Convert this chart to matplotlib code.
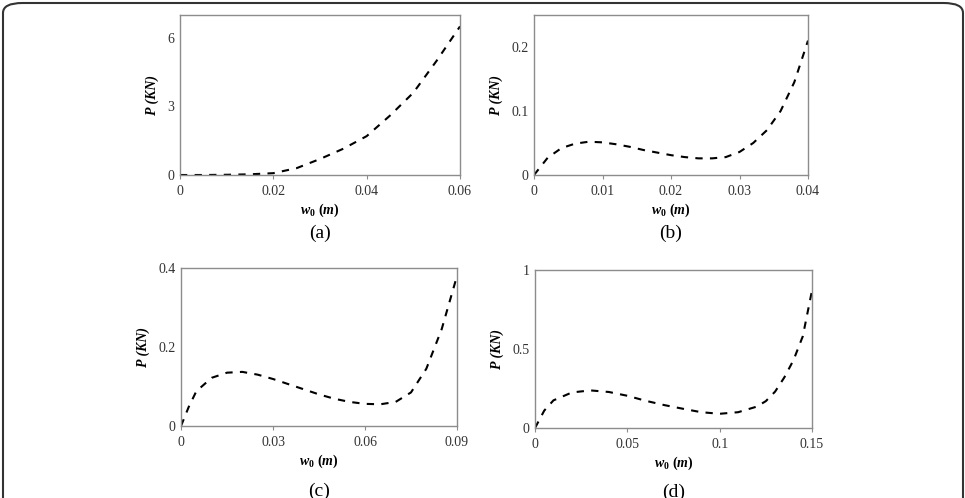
import matplotlib.pyplot as plt
from matplotlib.patches import FancyBboxPatch

# Данные
xa = [0, 0.005, 0.01, 0.015, 0.02, 0.025, 0.03, 0.035, 0.04, 0.045, 0.05, 0.055, 0.06]
ya = [0, 0, 0.01, 0.03, 0.08, 0.3, 0.7, 1.15, 1.7, 2.6, 3.6, 5.0, 6.5]

xb = [0, 0.002, 0.004, 0.006, 0.008, 0.01, 0.012, 0.014, 0.016, 0.018, 0.02,
      0.022, 0.024, 0.026, 0.028, 0.03, 0.032, 0.034, 0.036, 0.038, 0.04]
yb = [0, 0.027, 0.042, 0.049, 0.052, 0.051, 0.048, 0.044, 0.039, 0.035, 0.031,
      0.028, 0.026, 0.026, 0.028, 0.036, 0.050, 0.070, 0.100, 0.145, 0.21]

xc = [0, 0.0025, 0.005, 0.01, 0.015, 0.02, 0.025, 0.03, 0.035, 0.04, 0.045,
      0.05, 0.055, 0.06, 0.065, 0.07, 0.075, 0.08, 0.085, 0.09]
yc = [0, 0.048, 0.088, 0.122, 0.135, 0.137, 0.130, 0.119, 0.106, 0.093, 0.080,
      0.069, 0.061, 0.056, 0.055, 0.061, 0.085, 0.145, 0.245, 0.38]

xd = [0, 0.005, 0.01, 0.02, 0.03, 0.04, 0.05, 0.06, 0.07, 0.08, 0.09, 0.1,
      0.11, 0.12, 0.125, 0.13, 0.135, 0.14, 0.145, 0.15]
yd = [0, 0.11, 0.175, 0.225, 0.238, 0.228, 0.204, 0.172, 0.145, 0.122, 0.1, 0.09,
      0.1, 0.135, 0.17, 0.23, 0.32, 0.43, 0.58, 0.87]

panels = [
    ('(a)', xa, ya, [0, 0.02, 0.04, 0.06], ['0', '0.02', '0.04', '0.06'], 0.06,
     [0, 3, 6], ['0', '3', '6'], 7),
    ('(b)', xb, yb, [0, 0.01, 0.02, 0.03, 0.04], ['0', '0.01', '0.02', '0.03', '0.04'], 0.04,
     [0, 0.1, 0.2], ['0', '0.1', '0.2'], 0.25),
    ('(c)', xc, yc, [0, 0.03, 0.06, 0.09], ['0', '0.03', '0.06', '0.09'], 0.09,
     [0, 0.2, 0.4], ['0', '0.2', '0.4'], 0.4),
    ('(d)', xd, yd, [0, 0.05, 0.1, 0.15], ['0', '0.05', '0.1', '0.15'], 0.15,
     [0, 0.5, 1], ['0', '0.5', '1'], 1),
]

W, H = 965, 498
# позиции осей в пикселях: левый, правый, верх, низ; и сдвиг подписи (a)-(d)
boxes = [(180, 460, 15, 175, -0.31), (534, 808, 15, 175, -0.31),
         (181, 457, 268, 426, -0.36), (535, 812, 270, 428, -0.35)]

plt.rcParams['font.family'] = ['Liberation Serif', 'DejaVu Serif']
plt.rcParams['mathtext.fontset'] = 'custom'
plt.rcParams['mathtext.rm'] = 'Liberation Serif:bold'
plt.rcParams['mathtext.it'] = 'Liberation Serif:italic:bold'
plt.rcParams['mathtext.bf'] = 'Liberation Serif:bold'

fig = plt.figure(figsize=(W / 100, H / 100), dpi=100)

# рамка со скруглёнными углами
frame = FancyBboxPatch((3 / W, -0.2), 960 / W, 1.2 - 3 / H,
                       boxstyle='round,pad=0,rounding_size=0.02',
                       transform=fig.transFigure, fill=False,
                       edgecolor='#333333', linewidth=1.5)
fig.patches.append(frame)

for (cap, x, y, xt, xtl, xmax, yt, ytl, ymax), (l, r, t, b, cy) in zip(panels, boxes):
    ax = fig.add_axes([l / W, 1 - b / H, (r - l) / W, (b - t) / H])
    ax.plot(x, y, color='black', linewidth=1.5, linestyle=(0, (3.5, 3.5)))
    ax.set_xlim(0, xmax)
    ax.set_ylim(0, ymax)
    ax.set_xticks(xt)
    ax.set_xticklabels(xtl)
    ax.set_yticks(yt)
    ax.set_yticklabels(ytl)
    ax.tick_params(labelsize=10, labelcolor='#333333', color='#8c8c8c')
    ax.tick_params(axis='x', direction='out', length=3, pad=4)
    ax.tick_params(axis='y', length=0, pad=4)
    for s in ax.spines.values():
        s.set_color('#8c8c8c')
        s.set_linewidth(1.0)
    ax.set_xlabel(r'$w_0\ (m)$', fontsize=10, labelpad=3)
    ax.set_ylabel('P (KN)', fontsize=10, fontweight='bold', fontstyle='italic', labelpad=6)
    ax.text(0.5, cy, cap, transform=ax.transAxes, ha='center', va='top', fontsize=14)

fig.savefig('out.png', dpi=100)
